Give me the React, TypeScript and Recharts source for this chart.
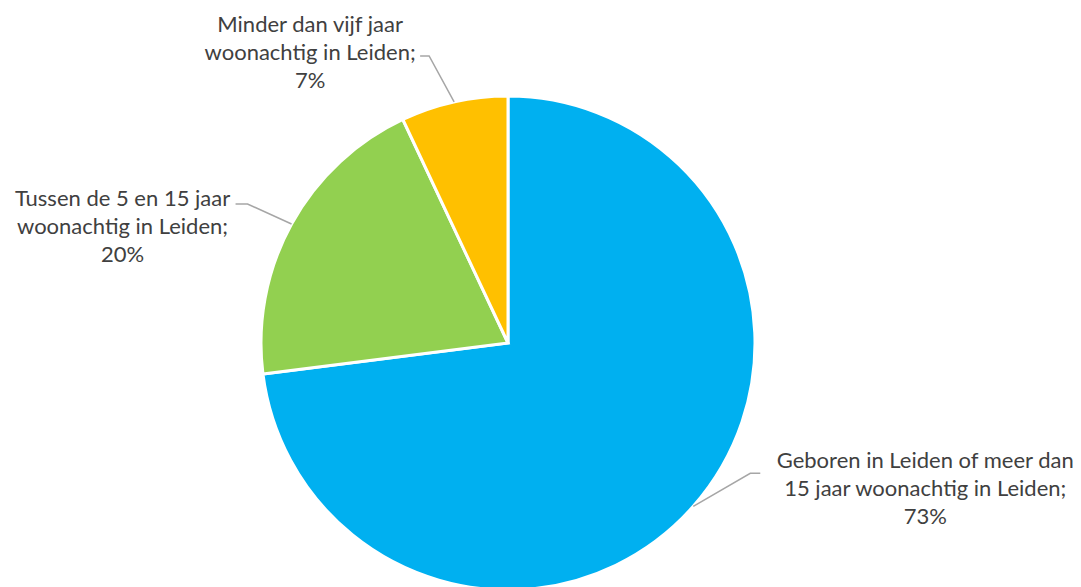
import { Cell, Pie, PieChart } from 'recharts'

const CATEGORIES = [
  'Geboren in Leiden of meer dan 15 jaar woonachtig in Leiden',
  'Tussen de 5 en 15 jaar woonachtig in Leiden',
  'Minder dan vijf jaar woonachtig in Leiden',
]
const LABEL_LINES = [
  ['Geboren in Leiden of meer dan', '15 jaar woonachtig in Leiden;'],
  ['Tussen de 5 en 15 jaar', 'woonachtig in Leiden;'],
  ['Minder dan vijf jaar', 'woonachtig in Leiden;'],
]
const VALUES = [73, 20, 7]
const COLORS = ['#00B0F0', '#92D050', '#FFC000']

const data = CATEGORIES.map((name, i) => ({ name, value: VALUES[i] }))

// leader line + text placement, relative to the slice edge point
const LAYOUT = [
  { elbow: [57, -33], tail: 10, text: [165, -5] },
  { elbow: [-44, -20], tail: -12, text: [-113, 2] },
  { elbow: [-25, -46], tail: -9, text: [-110, -24] },
]

const RADIAN = Math.PI / 180
const LINE_H = 28

function renderLabel(props: any) {
  const { cx, cy, midAngle, outerRadius, index, percent } = props
  const x0 = cx + outerRadius * Math.cos(-midAngle * RADIAN)
  const y0 = cy + outerRadius * Math.sin(-midAngle * RADIAN)
  const l = LAYOUT[index]
  const x1 = x0 + l.elbow[0]
  const y1 = y0 + l.elbow[1]
  const x2 = x1 + l.tail
  const tx = x2 + l.text[0]
  const ty = y1 + l.text[1]
  const lines = [...LABEL_LINES[index], `${Math.round(percent * 100)}%`]
  return (
    <g key={`lbl-${index}`}>
      <polyline
        points={`${x0},${y0} ${x1},${y1} ${x2},${y1}`}
        fill="none"
        stroke="#a6a6a6"
        strokeWidth={1.5}
      />
      <text x={tx} y={ty} textAnchor="middle" fill="#404040" fontSize={22} fontFamily="Lato">
        {lines.map((s, i) => (
          <tspan key={i} x={tx} y={ty + i * LINE_H}>
            {s}
          </tspan>
        ))}
      </text>
    </g>
  )
}

export default function App() {
  return (
    <div style={{ width: 1081, height: 587, background: '#fff' }}>
      <style>{'body{margin:0}'}</style>
      <PieChart width={1081} height={587} margin={{ top: 0, right: 0, bottom: 0, left: 0 }}>
        <Pie
          data={data}
          dataKey="value"
          nameKey="name"
          cx={508}
          cy={343}
          outerRadius={247}
          startAngle={90}
          endAngle={-270}
          stroke="#ffffff"
          strokeWidth={3}
          label={renderLabel}
          labelLine={false}
          isAnimationActive={false}
        >
          {data.map((d, i) => (
            <Cell key={d.name} fill={COLORS[i]} />
          ))}
        </Pie>
      </PieChart>
    </div>
  )
}
